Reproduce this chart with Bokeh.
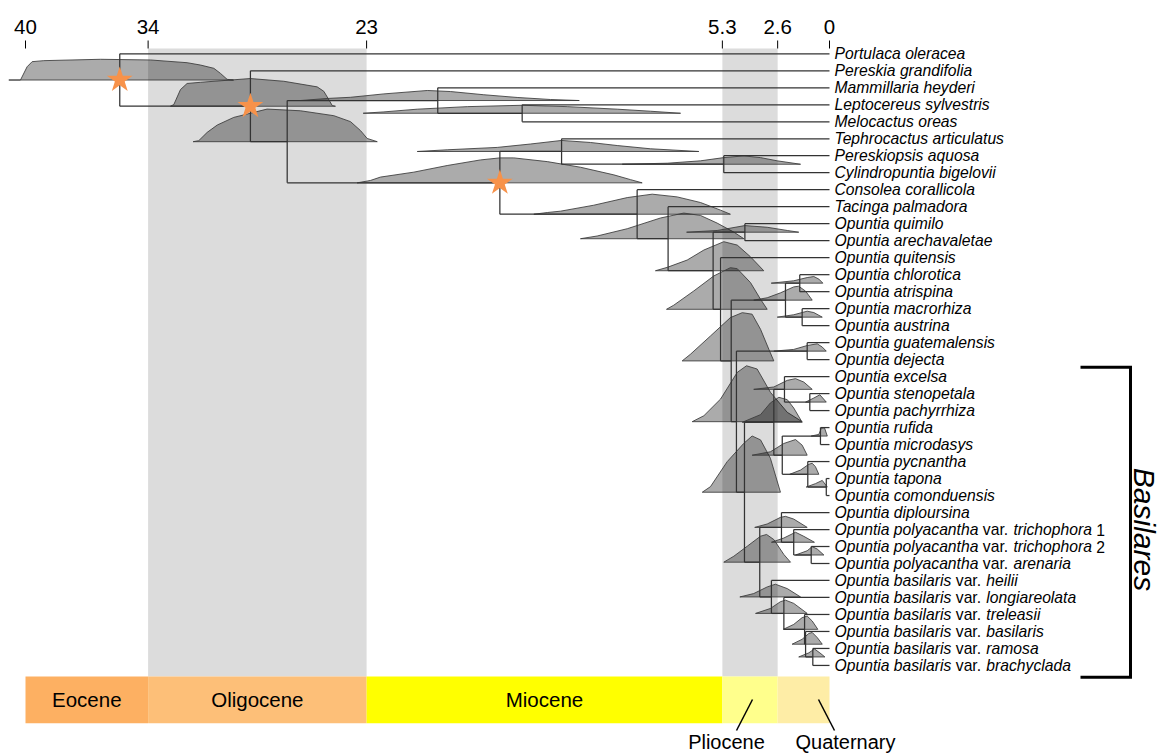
import math
from bokeh.plotting import figure
from bokeh.models import Range1d, ColumnDataSource
from bokeh.core.properties import value
from bokeh.embed import file_html
from bokeh.resources import INLINE

# ---------------- data ----------------
# taxa (top to bottom); *...* marks italic parts
taxa = [
    "*Portulaca oleracea*",
    "*Pereskia grandifolia*",
    "*Mammillaria heyderi*",
    "*Leptocereus sylvestris*",
    "*Melocactus oreas*",
    "*Tephrocactus articulatus*",
    "*Pereskiopsis aquosa*",
    "*Cylindropuntia bigelovii*",
    "*Consolea corallicola*",
    "*Tacinga palmadora*",
    "*Opuntia quimilo*",
    "*Opuntia arechavaletae*",
    "*Opuntia quitensis*",
    "*Opuntia chlorotica*",
    "*Opuntia atrispina*",
    "*Opuntia macrorhiza*",
    "*Opuntia austrina*",
    "*Opuntia guatemalensis*",
    "*Opuntia dejecta*",
    "*Opuntia excelsa*",
    "*Opuntia stenopetala*",
    "*Opuntia pachyrrhiza*",
    "*Opuntia rufida*",
    "*Opuntia microdasys*",
    "*Opuntia pycnantha*",
    "*Opuntia tapona*",
    "*Opuntia comonduensis*",
    "*Opuntia diploursina*",
    "*Opuntia polyacantha* var. *trichophora* 1",
    "*Opuntia polyacantha* var. *trichophora* 2",
    "*Opuntia polyacantha* var. *arenaria*",
    "*Opuntia basilaris* var. *heilii*",
    "*Opuntia basilaris* var. *longiareolata*",
    "*Opuntia basilaris* var. *treleasii*",
    "*Opuntia basilaris* var. *basilaris*",
    "*Opuntia basilaris* var. *ramosa*",
    "*Opuntia basilaris* var. *brachyclada*",
]

# tree topology: internal node -> (child, child); ints are taxon rows
children = {
    "A": (0, "B"), "B": (1, "C"), "C": ("D", "F"), "D": (2, "E"), "E": (3, 4),
    "F": ("G", "H"), "G": (5, "I"), "I": (6, 7), "H": (8, "J"), "J": (9, "K"),
    "K": ("L", "M"), "L": (10, 11), "M": (12, "N"), "N": ("O", "S"),
    "O": ("P", "Q"), "P": (13, 14), "Q": (15, 16), "S": ("R", "T"), "R": (17, 18),
    "T": ("U", "V"), "U": ("W", "X"), "W": (19, "Y"), "Y": (20, 21),
    "X": ("Z", "AA"), "Z": (22, 23), "AA": (24, "AB"), "AB": (25, 26),
    "V": ("AC", "AD"), "AC": (27, "AE"), "AE": (28, "AF"), "AF": (29, 30),
    "AD": (31, "AG"), "AG": (32, "AH"), "AH": (33, "AI"), "AI": (34, "AJ"), "AJ": (35, 36),
}

# node ages (Ma)
node_age = {
    "A": 35.31, "B": 28.81, "C": 26.98, "D": 19.49, "E": 15.29, "F": 16.40,
    "G": 13.33, "I": 5.26, "H": 9.57, "J": 8.03, "K": 5.79, "L": 4.21,
    "M": 5.42, "N": 4.89, "O": 2.19, "P": 1.48, "Q": 1.36, "S": 4.63,
    "R": 1.11, "T": 4.23, "U": 2.77, "W": 2.24, "Y": 0.98, "X": 2.35,
    "Z": 0.45, "AA": 1.08, "AB": 0.16, "V": 3.47, "AC": 2.39, "AE": 1.78,
    "AF": 0.91, "AD": 2.89, "AG": 2.27, "AH": 1.24, "AI": 1.19, "AJ": 0.83,
}

# calibration points (starred nodes)
star_nodes = ["A", "B", "F"]

# posterior node-age densities: (age Ma, relative density)
dens_A = [(40.83, 0), (40.25, 0), (39.92, 0.78), (39.67, 1.08), (39.09, 1.14), (36.27, 1.22), (33.78, 1.18), (31.96, 1.02), (31.29, 0.88), (30.63, 0.69), (30.30, 0.39), (29.97, 0.04), (29.65, 0)]
dens_B = [(32.79, 0), (32.62, 0.10), (32.29, 0.98), (31.96, 1.34), (31.29, 1.41), (28.81, 1.63), (27.15, 1.47), (25.49, 1.14), (25.16, 0.88), (24.91, 0.39), (24.74, 0.04), (24.58, 0)]
dens_C = [(31.66, 0), (31.38, 0.06), (30.96, 0.55), (30.46, 0.98), (29.64, 1.43), (27.98, 1.92), (26.32, 1.82), (24.66, 1.53), (23.83, 1.18), (23.33, 0.65), (23.00, 0.19), (22.50, 0)]
dens_D = [(26.32, 0), (24.99, 0.12), (23.83, 0.19), (22.17, 0.39), (20.01, 0.59), (18.86, 0.53), (17.20, 0.34), (15.54, 0.18), (13.88, 0.06), (12.45, 0)]
dens_E = [(23.20, 0), (22.17, 0.08), (20.51, 0.24), (18.02, 0.39), (15.29, 0.47), (13.05, 0.39), (10.56, 0.24), (8.91, 0.12), (7.41, 0)]
dens_F = [(23.50, 0), (22.84, 0.14), (22.34, 0.34), (20.68, 0.63), (19.02, 1.02), (17.36, 1.35), (16.40, 1.47), (15.71, 1.47), (14.04, 1.25), (12.39, 0.92), (10.73, 0.47), (9.90, 0.19), (9.32, 0)]
dens_G = [(20.51, 0), (19.02, 0.10), (16.53, 0.24), (14.88, 0.44), (13.33, 0.65), (11.89, 0.53), (10.56, 0.35), (8.91, 0.16), (6.50, 0)]
dens_I = [(10.31, 0), (8.07, 0.06), (6.42, 0.20), (5.26, 0.39), (4.26, 0.49), (3.43, 0.39), (2.60, 0.20), (1.44, 0)]
dens_H = [(14.71, 0), (14.04, 0.10), (13.38, 0.18), (11.73, 0.53), (10.06, 0.98), (8.82, 1.18), (7.58, 1.02), (6.42, 0.69), (5.42, 0.24), (4.93, 0)]
dens_J = [(12.39, 0), (11.56, 0.16), (10.06, 0.59), (8.41, 1.22), (7.25, 1.51), (6.42, 1.37), (5.59, 0.92), (4.76, 0.39), (4.26, 0)]
dens_K = [(8.66, 0), (8.07, 0.20), (7.08, 0.63), (6.25, 1.22), (5.26, 1.71), (4.59, 1.51), (3.93, 0.82), (3.27, 0)]
dens_L = [(7.11, 0), (5.59, 0.10), (4.21, 0.39), (3.10, 0.29), (2.10, 0.10), (1.53, 0)]
dens_M = [(8.11, 0), (7.75, 0.24), (6.75, 1.08), (5.76, 1.96), (4.93, 2.45), (4.59, 2.39), (3.93, 1.57), (3.43, 0.59), (3.10, 0)]
dens_N = [(7.33, 0), (6.92, 0.39), (5.92, 1.47), (4.93, 2.55), (4.34, 2.84), (3.85, 2.75), (3.43, 1.86), (3.02, 0.69), (2.77, 0)]
dens_O = [(3.77, 0), (3.10, 0.14), (2.44, 0.43), (1.78, 0.78), (1.53, 0.82), (1.19, 0.53), (0.86, 0)]
dens_P = [(2.90, 0), (1.78, 0.14), (1.11, 0.33), (0.78, 0.39), (0.53, 0.24), (0.33, 0)]
dens_Q = [(2.60, 0), (1.78, 0.14), (1.11, 0.35), (0.78, 0.27), (0.36, 0)]
dens_R = [(2.77, 0), (1.78, 0.10), (1.11, 0.33), (0.61, 0.43), (0.36, 0.24), (0.16, 0)]
dens_S = [(6.83, 0), (6.25, 0.35), (5.42, 1.33), (4.59, 2.90), (4.13, 3.29), (3.60, 3.10), (2.94, 1.73), (2.10, 0.55), (1.36, 0)]
dens_T = [(6.33, 0), (5.92, 0.33), (5.09, 1.80), (4.26, 2.88), (3.85, 3.31), (3.43, 3.08), (2.94, 2.00), (2.44, 0)]
dens_U = [(4.34, 0), (3.43, 0.45), (2.94, 1.14), (2.52, 1.47), (2.10, 1.33), (1.78, 0.84), (1.36, 0)]
dens_W = [(3.77, 0), (2.77, 0.14), (2.10, 0.53), (1.69, 0.63), (1.28, 0.43), (0.86, 0)]
dens_Y = [(1.19, 0), (0.78, 0.24), (0.48, 0.43), (0.16, 0)]
dens_X = [(3.85, 0), (2.94, 0.20), (2.27, 0.69), (1.69, 0.92), (1.36, 0.59), (1.11, 0)]
dens_Z = [(0.91, 0), (0.53, 0.10), (0.41, 0.45), (0.25, 0.49), (0.11, 0)]
dens_AA = [(1.98, 0), (1.44, 0.25), (1.03, 0.59), (0.86, 0.65), (0.70, 0.45), (0.53, 0)]
dens_AB = [(1.16, 0), (0.70, 0.20), (0.36, 0.39), (0.11, 0)]
dens_V = [(5.26, 0), (4.76, 0.35), (4.09, 0.94), (3.43, 1.53), (3.13, 1.63), (2.77, 1.33), (2.27, 0.45), (1.94, 0)]
dens_AC = [(3.72, 0), (3.10, 0.20), (2.44, 0.59), (2.19, 0.65), (1.78, 0.49), (1.11, 0)]
dens_AE = [(2.89, 0), (2.27, 0.25), (1.69, 0.59), (1.28, 0.35), (0.75, 0)]
dens_AF = [(1.69, 0), (1.11, 0.25), (0.86, 0.49), (0.61, 0.35), (0.28, 0)]
dens_AD = [(4.46, 0), (3.77, 0.20), (3.10, 0.59), (2.69, 0.75), (2.10, 0.49), (1.44, 0)]
dens_AG = [(3.68, 0), (2.94, 0.29), (2.44, 0.69), (2.19, 0.78), (1.78, 0.59), (1.11, 0)]
dens_AH = [(2.30, 0), (1.78, 0.29), (1.36, 0.69), (1.11, 0.78), (0.86, 0.49), (0.58, 0)]
dens_AI = [(1.86, 0), (1.36, 0.29), (1.03, 0.63), (0.86, 0.69), (0.61, 0.39), (0.36, 0)]
dens_AJ = [(1.53, 0), (1.03, 0.24), (0.75, 0.47), (0.48, 0.24), (0.23, 0)]

# time axis ticks
tick_ages = [40, 33.9, 23.03, 5.33, 2.58, 0]
tick_labels = ["40", "34", "23", "5.3", "2.6", "0"]

# geological epochs
epoch_names = ["Eocene", "Oligocene", "Miocene", "Pliocene", "Quaternary"]
epoch_start = [40, 33.9, 23.03, 5.33, 2.58]
epoch_end = [33.9, 23.03, 5.33, 2.58, 0]
shaded_epochs = ["Oligocene", "Pliocene"]

clade_name = "Basilares"
clade_first, clade_last = 19, 36

# ---------------- styling / layout ----------------
epoch_colors = ["#fdb062", "#fdbf78", "#ffff00", "#ffff8c", "#feeda6"]
FONT = value("Liberation Sans")
LINE = "#333333"

densities = {
    "A": dens_A, "B": dens_B, "C": dens_C, "D": dens_D, "E": dens_E, "F": dens_F,
    "G": dens_G, "I": dens_I, "H": dens_H, "J": dens_J, "K": dens_K, "L": dens_L,
    "M": dens_M, "N": dens_N, "O": dens_O, "P": dens_P, "Q": dens_Q, "R": dens_R,
    "S": dens_S, "T": dens_T, "U": dens_U, "W": dens_W, "Y": dens_Y, "X": dens_X,
    "Z": dens_Z, "AA": dens_AA, "AB": dens_AB, "V": dens_V, "AC": dens_AC,
    "AE": dens_AE, "AF": dens_AF, "AD": dens_AD, "AG": dens_AG, "AH": dens_AH,
    "AI": dens_AI, "AJ": dens_AJ,
}

W, H = 1161, 756
PX_PER_MA = 20.1
X0 = 829.0          # canvas x of age 0
ROW_PX = 16.99
Y0 = 53.3           # canvas y of row 0

x_range = Range1d(start=X0 / PX_PER_MA, end=(X0 - W) / PX_PER_MA)
y_range = Range1d(start=(H - Y0) / ROW_PX, end=-Y0 / ROW_PX)

def row_at(canvas_y):
    return (canvas_y - Y0) / ROW_PX

def age_at(canvas_x):
    return (X0 - canvas_x) / PX_PER_MA

p = figure(width=W, height=H, x_range=x_range, y_range=y_range,
           output_backend="svg", toolbar_location=None,
           x_axis_type=None, y_axis_type=None, min_border=0)
p.outline_line_color = None
p.grid.visible = False
p.background_fill_color = "white"

# shaded epoch bands
band_top = row_at(48)
bar_top = row_at(676)
bar_bot = row_at(722.7)
sh = [i for i, n in enumerate(epoch_names) if n in shaded_epochs]
p.quad(left=[epoch_start[i] for i in sh], right=[epoch_end[i] for i in sh],
       top=band_top, bottom=bar_top, fill_color="#dcdcdc", line_color=None)

# epoch bar
p.quad(left=epoch_start, right=epoch_end, top=bar_top, bottom=bar_bot,
       fill_color=epoch_colors, line_color=None)

# tree geometry
def is_leaf(n):
    return isinstance(n, int)

ycache = {}
def ypos(n):
    if is_leaf(n):
        return float(n)
    if n not in ycache:
        a, b = children[n]
        ycache[n] = (ypos(a) + ypos(b)) / 2.0
    return ycache[n]

def agepos(n):
    return 0.0 if is_leaf(n) else node_age[n]

# densities
xs, ys = [], []
for n, pts in densities.items():
    base = ypos(n)
    xs.append([a for a, d in pts])
    ys.append([base - d for a, d in pts])
p.patches(xs, ys, fill_color="black", fill_alpha=0.33,
          line_color="#3a3a3a", line_alpha=0.85, line_width=1)

# branches
x0s, y0s, x1s, y1s = [], [], [], []
for n, (a, b) in children.items():
    xa = node_age[n]
    x0s.append(xa); y0s.append(ypos(a)); x1s.append(xa); y1s.append(ypos(b))
    for c in (a, b):
        x0s.append(xa); y0s.append(ypos(c)); x1s.append(agepos(c)); y1s.append(ypos(c))
p.segment(x0=x0s, y0=y0s, x1=x1s, y1=y1s, line_color=LINE, line_width=1.25)

# calibration stars
p.scatter(x=[node_age[n] for n in star_nodes], y=[ypos(n) for n in star_nodes],
          marker="star", size=27, fill_color="#f7924a", line_color=None)

# taxon labels (Arial/Liberation Sans advance widths)
AW = {' ': 278, '.': 278, '1': 556, '2': 556, 'O': 778, 'a': 556, 'b': 556, 'c': 500,
      'd': 556, 'e': 556, 'f': 278, 'g': 556, 'h': 556, 'i': 222, 'j': 222, 'k': 500,
      'l': 222, 'm': 833, 'n': 556, 'o': 556, 'p': 556, 'q': 556, 'r': 333, 's': 500,
      't': 278, 'u': 556, 'v': 500, 'w': 722, 'x': 500, 'y': 500, 'z': 500}
FS = 15.7
def tw(s):
    return sum(AW.get(ch, 556) for ch in s) * FS / 1000.0

lab = {True: dict(x=[], y=[], text=[], xo=[]), False: dict(x=[], y=[], text=[], xo=[])}
for i, t in enumerate(taxa):
    off = 5.0
    for k, part in enumerate(t.split("*")):
        if part == "":
            continue
        italic = (k % 2 == 1)
        lead = len(part) - len(part.lstrip(" "))
        trail = len(part) - len(part.rstrip(" "))
        off += lead * AW[' '] * FS / 1000.0
        txt = part.strip(" ")
        d = lab[italic]
        d["x"].append(0.0); d["y"].append(float(i)); d["text"].append(txt); d["xo"].append(off)
        off += tw(txt) + trail * AW[' '] * FS / 1000.0
for italic, d in lab.items():
    src = ColumnDataSource(d)
    p.text(x="x", y="y", text="text", x_offset="xo", source=src,
           text_font=FONT, text_font_size=f"{FS}px",
           text_font_style="italic" if italic else "normal",
           text_align="left", text_baseline="middle", text_color="black")

# time ticks
p.segment(x0=tick_ages, y0=row_at(40), x1=tick_ages, y1=row_at(48),
          line_color="black", line_width=1)
p.text(x=tick_ages, y=[row_at(26.5)] * len(tick_ages), text=tick_labels,
       text_font=FONT, text_font_size="20.5px", text_align="center",
       text_baseline="middle", text_color="black")

# epoch labels
mid = [(s + e) / 2 for s, e in zip(epoch_start, epoch_end)]
p.text(x=mid[:3], y=[row_at(699)] * 3, text=epoch_names[:3],
       text_font=FONT, text_font_size="20.5px", text_align="center",
       text_baseline="middle", text_color="black")
# Pliocene / Quaternary labels below with leader lines
p.segment(x0=[age_at(752), age_at(818)], y0=[row_at(699)] * 2,
          x1=[age_at(736), age_at(834)], y1=[row_at(730)] * 2,
          line_color="black", line_width=1.5)
p.text(x=[age_at(726), age_at(845)], y=[row_at(741)] * 2, text=epoch_names[3:],
       text_font=FONT, text_font_size="20px", text_align="center",
       text_baseline="middle", text_color="black")

# clade bracket
bx_in, bx_out = age_at(1080), age_at(1130)
btop, bbot = clade_first - 0.55, clade_last + 0.69
p.line(x=[bx_in, bx_out, bx_out, bx_in], y=[btop, btop, bbot, bbot],
       line_color="black", line_width=3, line_join="miter")
p.text(x=[age_at(1144)], y=[(clade_first + clade_last) / 2 + 0.5], text=[clade_name],
       angle=-math.pi / 2, text_font=FONT, text_font_size="30px",
       text_font_style="italic", text_align="center", text_baseline="middle",
       text_color="black")

open("out.html", "w").write(file_html(p, INLINE))
